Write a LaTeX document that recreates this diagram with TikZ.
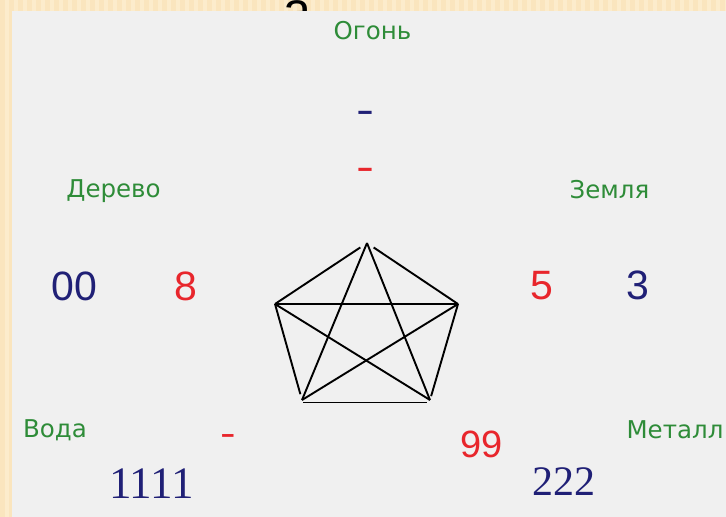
\documentclass[tikz,border=0pt]{standalone}
\usepackage{fontspec}
\newfontfamily\labfont{DejaVu Sans}
\newfontfamily\numfont{Liberation Sans}
\newfontfamily\serfont{Liberation Serif}
\definecolor{bgorange}{RGB}{252,236,204}
\definecolor{stripe}{RGB}{250,229,190}
\definecolor{panel}{RGB}{240,240,240}
\definecolor{labgreen}{RGB}{46,140,56}
\definecolor{numblue}{RGB}{32,32,118}
\definecolor{numred}{RGB}{232,38,44}
\begin{document}
\begin{tikzpicture}[x=1pt,y=-1pt,
  elem/.style={anchor=base, inner sep=0pt, text=labgreen, font=\labfont\fontsize{24.5}{29}\selectfont},
  bignum/.style={anchor=base, inner sep=0pt, font=\numfont\fontsize{41}{48}\selectfont},
  sernum/.style={anchor=base, inner sep=0pt, text=numblue, font=\serfont\fontsize{45}{50}\selectfont},
  dashmark/.style={anchor=base, inner sep=0pt, font=\numfont\fontsize{40}{48}\selectfont},
  link/.style={draw=black, line width=1.9pt}
]
\useasboundingbox (0,0) rectangle (726,517);
% striped backdrop
\fill[bgorange] (0,0) rectangle (726,517);
\foreach \i in {0,...,81} \fill[stripe] (\i*9,0) rectangle ++(4.5,517);
% cut-off title letter
\node[anchor=base, inner sep=0pt, font=\numfont\fontsize{50}{56}\selectfont] (title) at (297,27) {а};
% panel
\fill[panel] (12,11) rectangle (726,517);

% element labels
\node[elem] (fire) at (372.5,39) {Огонь};
\node[elem] (wood) at (113.5,197) {Дерево};
\node[elem] (earth) at (609.5,198) {Земля};
\node[elem] (water) at (55,437) {Вода};
\node[elem] (metal) at (675,438) {Металл};

% numbers
\node[bignum, text=numblue] (n00) at (74.5,300) {00};
\node[bignum, text=numred] (n8) at (186,300) {8};
\node[bignum, text=numred] (n5) at (542,299) {5};
\node[bignum, text=numblue] (n3) at (638,299) {3};
\node[bignum, text=numred, font=\numfont\fontsize{38}{44}\selectfont] (n99) at (481.5,457) {99};
\node[sernum] (n1111) at (151.5,498) {1111};
\node[sernum, font=\serfont\fontsize{42}{48}\selectfont] (n222) at (563.5,495) {222};

% dashes
\node[dashmark, text=numblue] (dblue) at (365,123.4) {\scalebox{1.35}[1]{-}};
\node[dashmark, text=numred] (dred) at (365.5,180.4) {\scalebox{1.35}[1]{-}};
\node[dashmark, text=numred, font=\numfont\fontsize{36}{42}\selectfont] (dwater) at (228,445.4) {\scalebox{1.3}[1]{-}};

% pentagram
\coordinate (T) at (367,243);
\coordinate (L) at (275,304);
\coordinate (R) at (458,304);
\coordinate (BL) at (302,400);
\coordinate (BR) at (430,400);
\coordinate (BLb) at (303,402.5);
\coordinate (BRb) at (427,402.5);

\draw[link, shorten <=8pt] (T) -- (L);
\draw[link, shorten <=8pt] (T) -- (R);
\draw[link] (L) -- (R);
\draw[link, shorten >=6pt] (L) -- (BL);
\draw[link, shorten >=4pt] (R) -- (BR);
\draw[link] (BLb) -- (BRb);
\draw[link] (T) -- (BL);
\draw[link] (T) -- (BR);
\draw[link] (L) -- (BR);
\draw[link] (R) -- (BL);
\end{tikzpicture}
\end{document}
